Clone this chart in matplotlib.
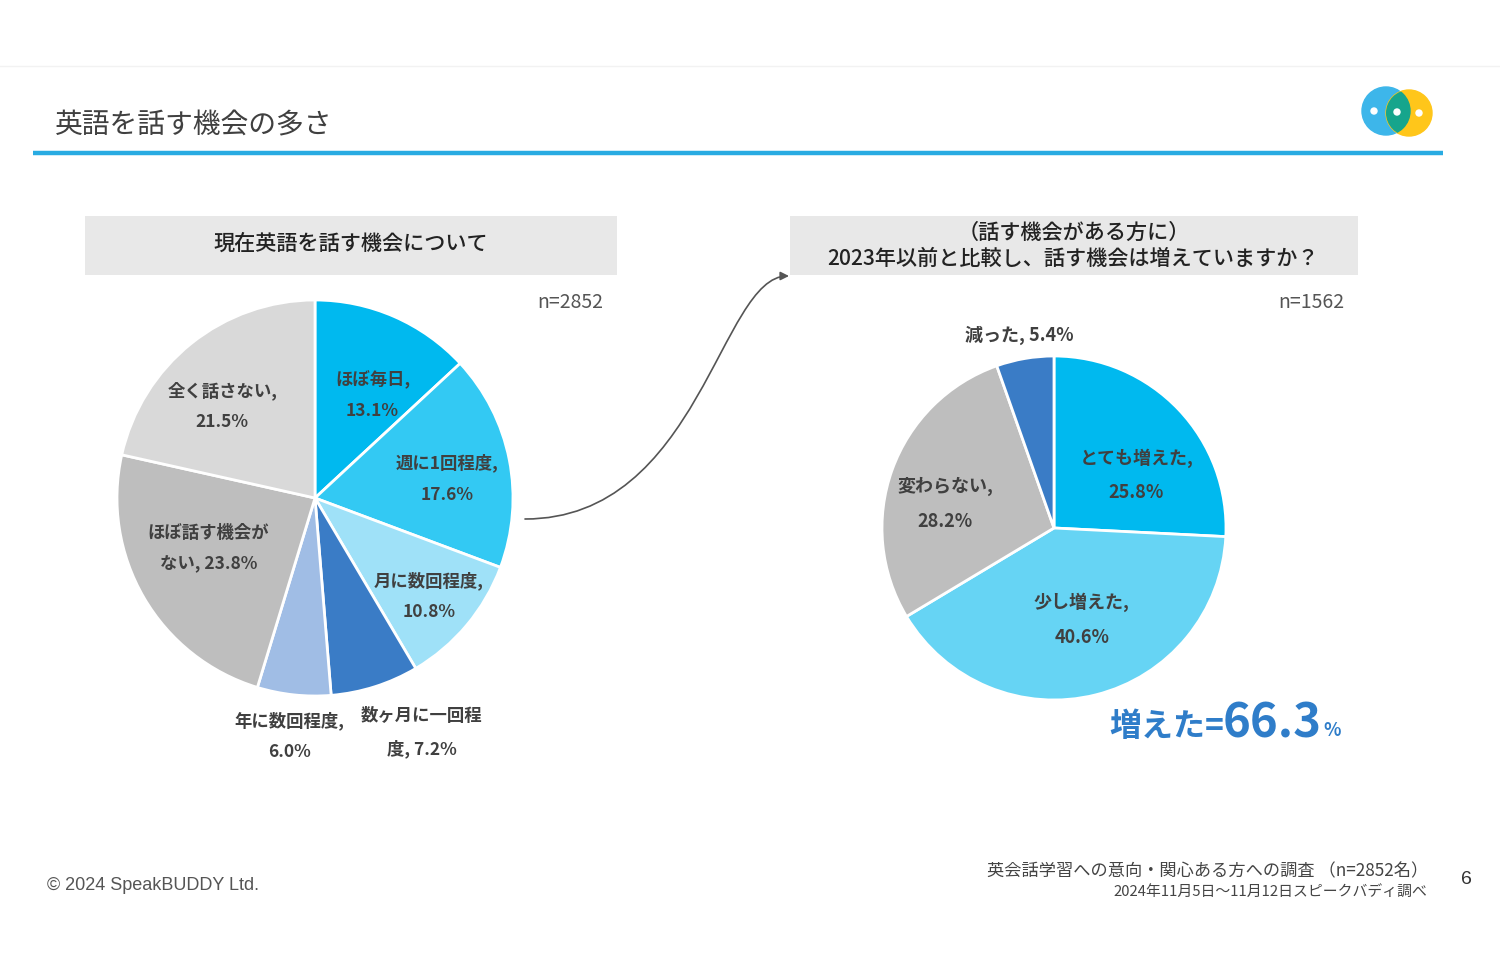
import numpy as np
import matplotlib
matplotlib.use("Agg")
import matplotlib.pyplot as plt
from matplotlib.patches import Rectangle, Circle, FancyArrowPatch
from matplotlib.path import Path

plt.rcParams['font.family'] = ['Noto Sans CJK JP', 'DejaVu Sans']

# --> data
left_labels = ['ほぼ毎日,\n13.1%', '週に1回程度,\n17.6%', '月に数回程度,\n10.8%',
               '数ヶ月に一回程\n度, 7.2%', '年に数回程度,\n6.0%',
               'ほぼ話す機会が\nない, 23.8%', '全く話さない,\n21.5%']
left_values = [13.1, 17.6, 10.8, 7.2, 6.0, 23.8, 21.5]
left_colors = ['#00B9EF', '#33C9F3', '#9FE1F8', '#3A7CC6', '#A0BDE5', '#BEBEBE', '#D9D9D9']
left_dist = [0.60, 0.68, 0.75, 1.28, 1.21, 0.60, 0.66]
left_nudge = [(10, 6), (0, 7), (0, 3), (30, -7), (0, 0), (-4, -9), (-11, 10)]

right_labels = ['とても増えた,\n25.8%', '少し増えた,\n40.6%', '変わらない,\n28.2%', '減った, 5.4%']
right_values = [25.8, 40.6, 28.2, 5.4]
right_colors = ['#00B9EF', '#66D4F4', '#BEBEBE', '#3A7CC6']
right_dist = [0.58, 0.55, 0.64, 1.14]
right_nudge = [(10, 16), (5, 0), (-5, 13), (-2, 1)]

W, H = 1500, 976


def Y(y):
    return H - y


fig = plt.figure(figsize=(15, 9.76), dpi=100)
ax = fig.add_axes([0, 0, 1, 1])


def draw_pie(values, colors, labels, dists, nudges, center, radius, size, spacing):
    wedges, _ = ax.pie(values, colors=colors, startangle=90, counterclock=False,
                       center=center, radius=radius, frame=True,
                       wedgeprops=dict(edgecolor='white', linewidth=2))
    for i, w in enumerate(wedges):
        ang = np.deg2rad((w.theta1 + w.theta2) / 2)
        # nudges are in screen pixels (y down)
        x = center[0] + dists[i] * radius * np.cos(ang) + nudges[i][0]
        y = center[1] + dists[i] * radius * np.sin(ang) - nudges[i][1]
        ax.text(x, y, labels[i], ha='center', va='center', fontsize=size,
                fontweight='bold', color='#404040', linespacing=spacing)


# --> header
ax.plot([0, W], [Y(66), Y(66)], color='#F2F2F2', lw=1)
ax.text(55, Y(125), '英語を話す機会の多さ', fontsize=20, color='#404040', va='center')
ax.plot([33, 1443], [Y(153), Y(153)], color='#29ABE2', lw=3.2, solid_capstyle='butt')

# --> logo
c_blue = Circle((1386, Y(111)), 24, color='#3DB6EA', zorder=3)
c_yel = Circle((1409, Y(113)), 23, color='#FFC61A', zorder=3)
ax.add_patch(c_blue)
ax.add_patch(c_yel)
c_mid = Circle((1386, Y(111)), 24, color='#16A58C', zorder=4)
ax.add_patch(c_mid)
c_mid.set_clip_path(c_yel)
for dx, dy in [(1374, 111), (1397, 112), (1419, 113)]:
    ax.add_patch(Circle((dx, Y(dy)), 3, color='white', zorder=5))

# --> panel titles
ax.add_patch(Rectangle((85, Y(275)), 532, 59, color='#E8E8E8', lw=0))
ax.text(351, Y(244), '現在英語を話す機会について', ha='center', va='center',
        fontsize=15.2, fontweight='medium', color='#222222')
ax.add_patch(Rectangle((790, Y(275)), 568, 59, color='#E8E8E8', lw=0))
ax.text(1074, Y(233), '（話す機会がある方に）', ha='center', va='center',
        fontsize=15.2, fontweight='medium', color='#222222')
ax.text(1073, Y(259), '2023年以前と比較し、話す機会は増えていますか？', ha='center',
        va='center', fontsize=15.2, fontweight='medium', color='#222222')

ax.text(603, Y(302), 'n=2852', ha='right', va='center', fontsize=14, color='#555555')
ax.text(1344, Y(302), 'n=1562', ha='right', va='center', fontsize=14, color='#555555')

# --> pies
draw_pie(left_values, left_colors, left_labels, left_dist, left_nudge,
         (315, Y(498)), 198, 12.5, 1.95)
draw_pie(right_values, right_colors, right_labels, right_dist, right_nudge,
         (1054, Y(528)), 172, 13, 2.05)

# --> connecting arrow
verts = [(525, Y(519)), (700, Y(519)), (720, Y(276)), (789, Y(276))]
codes = [Path.MOVETO, Path.CURVE4, Path.CURVE4, Path.CURVE4]
arrow = FancyArrowPatch(path=Path(verts, codes), arrowstyle='-|>,head_length=5,head_width=2.5',
                        color='#555555', lw=1.2)
ax.add_patch(arrow)

# --> highlighted total
blue = '#2F7DC9'
ax.text(1341, Y(736), '%', ha='right', va='baseline', fontsize=13,
        fontweight='bold', color=blue)
ax.text(1322, Y(737), '66.3', ha='right', va='baseline', fontsize=34,
        fontweight='bold', color=blue)
ax.text(1224, Y(736), '増えた=', ha='right', va='baseline', fontsize=23,
        fontweight='bold', color=blue)

# --> footer
ax.text(47, Y(885), '© 2024 SpeakBUDDY Ltd.', va='center', fontsize=13,
        color='#555555', family='Liberation Sans')
ax.text(1428, Y(871), '英会話学習への意向・関心ある方への調査 （n=2852名）', ha='right',
        va='center', fontsize=12.4, color='#444444')
ax.text(1427, Y(892), '2024年11月5日～11月12日スピークバディ調べ', ha='right',
        va='center', fontsize=10.7, color='#444444')
ax.text(1466, Y(880), '6', ha='center', va='center', fontsize=14, color='#333333',
        family='Liberation Sans')

# pie() resets the view, so fix the pixel frame last
ax.set_xlim(0, W)
ax.set_ylim(0, H)
ax.set_aspect('equal')
ax.axis('off')

fig.savefig('out.png', dpi=100, facecolor='white')
